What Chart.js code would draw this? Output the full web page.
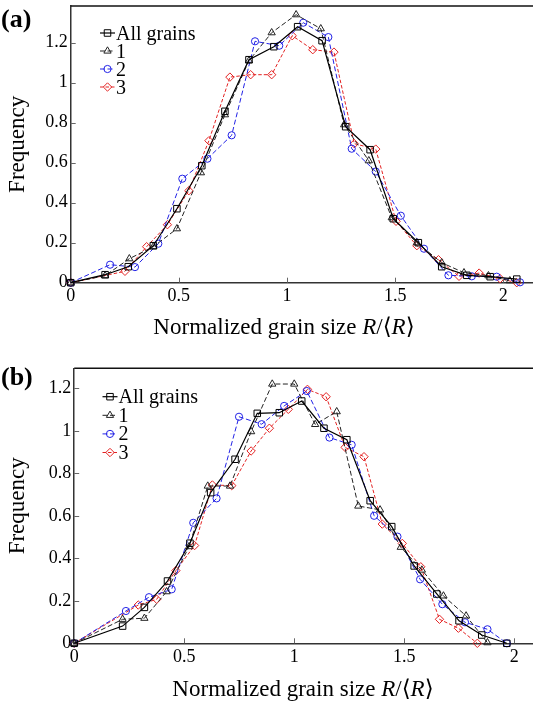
<!DOCTYPE html>
<html>
<head>
<meta charset="utf-8">
<script src="https://cdn.jsdelivr.net/npm/chart.js@4.4.0/dist/chart.umd.min.js"></script>
<style>
  html, body { margin: 0; padding: 0; background: #fff; }
  #wrap { position: relative; width: 533px; height: 701px; }
  .panel { position: absolute; left: 0; width: 533px; }
  #panelA { top: 0; height: 350px; }
  #panelB { top: 350px; height: 351px; }
</style>
</head>
<body>
<div id="wrap">
  <div class="panel" id="panelA"><canvas id="chartA" width="533" height="350"></canvas></div>
  <div class="panel" id="panelB"><canvas id="chartB" width="533" height="351"></canvas></div>
</div>
<script>
// series labels
const seriesNames = ['All grains', '1', '2', '3'];

// panel (a)
const aAllX = [0, 0.159, 0.266, 0.382, 0.491, 0.606, 0.713, 0.824, 0.939, 1.049, 1.162, 1.271, 1.384, 1.491, 1.607, 1.715, 1.831, 1.939, 2.062];
const aAllY = [0, 0.04, 0.08, 0.185, 0.37, 0.585, 0.857, 1.115, 1.18, 1.28, 1.21, 0.78, 0.665, 0.32, 0.2, 0.08, 0.037, 0.03, 0.018];
const a1X = [0, 0.159, 0.271, 0.382, 0.491, 0.602, 0.713, 0.824, 0.929, 1.042, 1.156, 1.264, 1.378, 1.484, 1.6, 1.715, 1.818, 1.931, 2.03];
const a1Y = [0, 0.035, 0.12, 0.18, 0.27, 0.55, 0.84, 1.11, 1.25, 1.34, 1.27, 0.79, 0.61, 0.325, 0.2, 0.1, 0.05, 0.035, 0.01];
const a2X = [0, 0.182, 0.297, 0.405, 0.516, 0.632, 0.744, 0.852, 0.964, 1.075, 1.191, 1.299, 1.41, 1.526, 1.633, 1.746, 1.854, 1.969, 2.077];
const a2Y = [0, 0.09, 0.078, 0.195, 0.52, 0.62, 0.737, 1.207, 1.185, 1.30, 1.228, 0.67, 0.556, 0.335, 0.17, 0.037, 0.032, 0.03, 0.002];
const a3X = [0, 0.251, 0.351, 0.447, 0.546, 0.639, 0.736, 0.832, 0.929, 1.024, 1.119, 1.217, 1.311, 1.41, 1.504, 1.6, 1.7, 1.795, 1.888, 1.985, 2.062];
const a3Y = [0, 0.057, 0.18, 0.29, 0.46, 0.71, 1.028, 1.04, 1.04, 1.235, 1.165, 1.153, 0.695, 0.668, 0.307, 0.185, 0.115, 0.032, 0.048, 0.02, 0];

// panel (b)
const bAllX = [0, 0.22, 0.319, 0.424, 0.526, 0.62, 0.731, 0.832, 0.932, 1.034, 1.135, 1.239, 1.345, 1.443, 1.545, 1.648, 1.749, 1.852, 1.966];
const bAllY = [0, 0.081, 0.169, 0.293, 0.471, 0.709, 0.866, 1.082, 1.085, 1.14, 1.012, 0.958, 0.671, 0.549, 0.364, 0.232, 0.106, 0.039, 0];
const b1X = [0, 0.22, 0.319, 0.42, 0.522, 0.607, 0.708, 0.804, 0.9, 1.0, 1.095, 1.193, 1.291, 1.39, 1.484, 1.58, 1.678, 1.781, 1.878];
const b1Y = [0, 0.113, 0.118, 0.243, 0.455, 0.74, 0.74, 0.996, 1.22, 1.22, 1.03, 1.09, 0.646, 0.628, 0.452, 0.345, 0.223, 0.129, 0.003];
const b2X = [0, 0.235, 0.34, 0.443, 0.541, 0.647, 0.749, 0.852, 0.954, 1.057, 1.16, 1.261, 1.363, 1.469, 1.572, 1.673, 1.776, 1.878, 1.966];
const b2Y = [0, 0.152, 0.217, 0.254, 0.567, 0.682, 1.066, 1.031, 1.117, 1.187, 0.968, 0.934, 0.6, 0.502, 0.301, 0.184, 0.099, 0.066, 0];
const b3X = [0, 0.291, 0.375, 0.462, 0.547, 0.628, 0.716, 0.804, 0.887, 0.973, 1.06, 1.145, 1.231, 1.317, 1.4, 1.491, 1.575, 1.66, 1.746, 1.832];
const b3Y = [0, 0.18, 0.207, 0.342, 0.46, 0.745, 0.742, 0.905, 1.012, 1.101, 1.195, 1.16, 0.922, 0.878, 0.561, 0.47, 0.36, 0.113, 0.071, 0];

// tick values
const xTickStep = 0.5;
const yTickStep = 0.2;

const SERIF = '"Liberation Serif", "DejaVu Serif", serif';

// style per series: all grains, 1, 2, 3
const styles = [
    { color: '#000', dash: [], width: 1.2, point: 'rect', radius: 4.6 },
    { color: '#222', dash: [5, 2.5], width: 1, point: 'triangle', radius: 4.2 },
    { color: '#2222e6', dash: [5, 2.5], width: 1, point: 'circle', radius: 3.6 },
    { color: '#e32222', dash: [3.5, 2], width: 1, point: 'rectRot', radius: 4.2 }
];

function pairs(xs, ys) {
    return xs.map((x, i) => ({ x: x, y: ys[i] }));
}

function makeDatasets(list) {
    return list.map((d, i) => {
        const st = styles[i];
        return {
            label: seriesNames[i],
            data: pairs(d[0], d[1]),
            borderColor: st.color,
            backgroundColor: 'rgba(0,0,0,0)',
            borderWidth: st.width,
            borderDash: st.dash,
            pointStyle: st.point,
            pointRadius: st.radius,
            pointBorderWidth: 1,
            pointBorderColor: st.color,
            pointBackgroundColor: 'rgba(0,0,0,0)',
            tension: 0,
            fill: false,
            clip: 8
        };
    });
}

function fmt(v) {
    return String(Math.round(v * 10) / 10);
}

function drawMarker(ctx, st, x, y) {
    ctx.strokeStyle = st.color;
    ctx.fillStyle = 'rgba(0,0,0,0)';
    ctx.lineWidth = 1;
    ctx.setLineDash([]);
    if (Chart.helpers && Chart.helpers.drawPoint) {
        Chart.helpers.drawPoint(ctx, { pointStyle: st.point, radius: st.radius, borderWidth: 1, rotation: 0 }, x, y);
    } else {
        ctx.beginPath();
        ctx.arc(x, y, st.radius, 0, Math.PI * 2);
        ctx.stroke();
    }
}

// frame, inner ticks, legend, x title, panel label
const panelDeco = {
    id: 'panelDeco',
    afterDraw(chart, args, opts) {
        const ctx = chart.ctx;
        const ca = chart.chartArea;
        const xs = chart.scales.x, ys = chart.scales.y;
        ctx.save();

        ctx.strokeStyle = '#111';
        ctx.lineWidth = 1.5;
        ctx.beginPath();
        ctx.moveTo(ca.left, ca.top);
        ctx.lineTo(ca.right, ca.top);
        ctx.stroke();

        ctx.strokeStyle = '#666';
        ctx.lineWidth = 1;
        xs.ticks.forEach(t => {
            if (t.value === 0) return;
            const px = Math.round(xs.getPixelForValue(t.value)) + 0.5;
            ctx.beginPath();
            ctx.moveTo(px, ca.bottom);
            ctx.lineTo(px, ca.bottom - 5);
            ctx.stroke();
        });
        ys.ticks.forEach(t => {
            if (t.value === 0) return;
            const py = Math.round(ys.getPixelForValue(t.value)) + 0.5;
            ctx.beginPath();
            ctx.moveTo(ca.left, py);
            ctx.lineTo(ca.left + 5, py);
            ctx.stroke();
        });

        // legend
        const lg = opts.legend;
        ctx.font = '20px ' + SERIF;
        ctx.textBaseline = 'alphabetic';
        ctx.textAlign = 'left';
        seriesNames.forEach((name, i) => {
            const st = styles[i];
            const cy = lg.y + i * lg.dy;
            ctx.strokeStyle = st.color;
            ctx.lineWidth = st.width;
            ctx.setLineDash(st.dash);
            ctx.beginPath();
            ctx.moveTo(lg.x, cy);
            ctx.lineTo(lg.x + 15, cy);
            ctx.stroke();
            drawMarker(ctx, st, lg.x + 7.5, cy);
            ctx.fillStyle = '#000';
            ctx.fillText(name, lg.x + 16, cy + 6.5);
        });

        // x axis title with italic R
        const parts = [
            ['Normalized grain size ', false],
            ['R', true],
            ['/\u27E8', false],
            ['R', true],
            ['\u27E9', false]
        ];
        const fs = opts.titleSize;
        let total = 0;
        parts.forEach(p => {
            ctx.font = (p[1] ? 'italic ' : '') + fs + 'px ' + SERIF;
            total += ctx.measureText(p[0]).width;
        });
        let tx = opts.titleX - total / 2;
        ctx.fillStyle = '#000';
        parts.forEach(p => {
            ctx.font = (p[1] ? 'italic ' : '') + fs + 'px ' + SERIF;
            ctx.fillText(p[0], tx, opts.titleY);
            tx += ctx.measureText(p[0]).width;
        });

        // panel label
        ctx.font = 'bold 26px ' + SERIF;
        ctx.fillText(opts.label, 1, opts.labelY);

        ctx.restore();
    }
};

function makePanel(canvasId, cfg) {
    const canvas = document.getElementById(canvasId);
    return new Chart(canvas, {
        type: 'line',
        data: { datasets: makeDatasets(cfg.series) },
        options: {
            responsive: false,
            animation: false,
            layout: {
                autoPadding: false,
                padding: { left: 0, right: 0, top: cfg.top, bottom: 0 }
            },
            plugins: {
                legend: { display: false },
                tooltip: { enabled: false },
                panelDeco: cfg.deco
            },
            scales: {
                x: {
                    type: 'linear',
                    min: 0,
                    max: cfg.xMax,
                    afterFit: s => {
                        s.height = cfg.xHeight;
                        s.paddingLeft = 0;
                        s.paddingRight = 0;
                    },
                    ticks: {
                        stepSize: xTickStep,
                        includeBounds: false,
                        color: '#000',
                        padding: 3,
                        maxRotation: 0,
                        font: { family: SERIF, size: 18 },
                        callback: v => fmt(v)
                    },
                    grid: { display: false, drawTicks: false },
                    border: { display: true, color: '#333', width: 1.5 }
                },
                y: {
                    type: 'linear',
                    min: 0,
                    max: cfg.yMax,
                    afterFit: s => {
                        s.width = cfg.yWidth;
                        s.paddingTop = 0;
                        s.paddingBottom = 0;
                    },
                    ticks: {
                        stepSize: yTickStep,
                        includeBounds: false,
                        color: '#000',
                        padding: 3,
                        font: { family: SERIF, size: 18 },
                        callback: v => fmt(v)
                    },
                    grid: { display: false, drawTicks: false },
                    border: { display: true, color: '#333', width: 1.5 },
                    title: {
                        display: true,
                        text: 'Frequency',
                        color: '#000',
                        font: { family: SERIF, size: 23 },
                        padding: { top: 4, bottom: 0 }
                    }
                }
            }
        },
        plugins: [panelDeco]
    });
}

makePanel('chartA', {
    series: [[aAllX, aAllY], [a1X, a1Y], [a2X, a2Y], [a3X, a3Y]],
    xMax: 2.137, yMax: 1.3835,
    top: 6, xHeight: 67.3, yWidth: 70.7,
    deco: { legend: { x: 100, y: 33, dy: 18 }, titleX: 284, titleY: 334, titleSize: 23, label: '(a)', labelY: 27 }
});

makePanel('chartB', {
    series: [[bAllX, bAllY], [b1X, b1Y], [b2X, b2Y], [b3X, b3Y]],
    xMax: 2.085, yMax: 1.294,
    top: 18.3, xHeight: 57.7, yWidth: 74.2,
    deco: { legend: { x: 102.5, y: 46.7, dy: 18.6 }, titleX: 303, titleY: 346, titleSize: 23, label: '(b)', labelY: 35 }
});
</script>
</body>
</html>
